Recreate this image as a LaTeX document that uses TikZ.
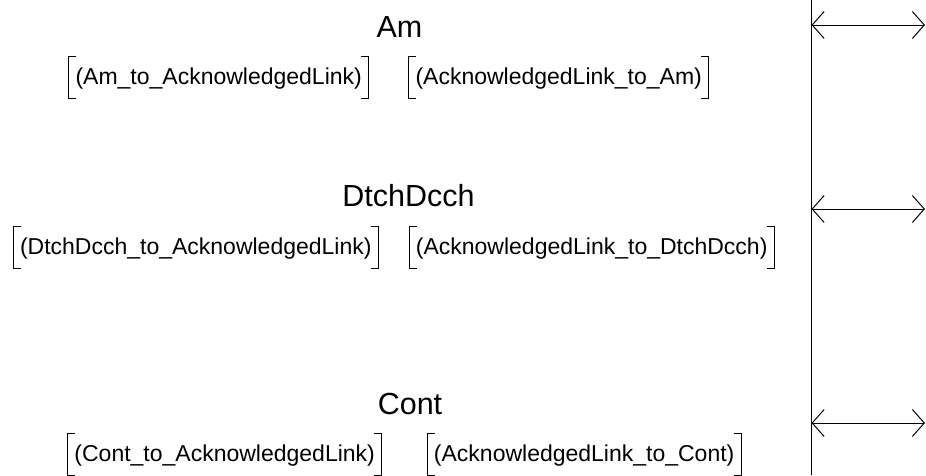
\documentclass[tikz,border=0pt]{standalone}
\usepackage{fontspec}
\setmainfont{Liberation Sans}
\usetikzlibrary{arrows.meta}
\begin{document}
\begin{tikzpicture}[x=1pt,y=-1pt,
  title/.style={font=\fontsize{30.5}{36}\selectfont, anchor=base, inner sep=0pt},
  lbl/.style={font=\fontsize{23}{28}\selectfont, anchor=base, inner xsep=6.5pt, inner ysep=0pt,
              text height=27pt, text depth=14pt},
  bracket/.style={line width=1pt},
  link/.style={line width=1pt, {Straight Barb[length=12pt,width=27pt]}-{Straight Barb[length=12pt,width=27pt]}}
]
\useasboundingbox (0,0) rectangle (926,475);

% bracketed label: square brackets drawn along the node's left and right edges
\newcommand{\brk}[1]{%
  \draw[bracket] ([xshift=7.5pt]#1.north west) -- (#1.north west) -- (#1.south west) -- ([xshift=7.5pt]#1.south west);
  \draw[bracket] ([xshift=-7.5pt]#1.north east) -- (#1.north east) -- (#1.south east) -- ([xshift=-7.5pt]#1.south east);}

% group titles
\node[title] (tam)   at (399.5,37)  {Am};
\node[title] (tdtch) at (408.5,206) {DtchDcch};
\node[title] (tcont) at (410,414)   {Cont};

% transition labels
\node[lbl] (am1) at (218.7,84) {(Am\_to\_AcknowledgedLink)};
\node[lbl] (am2) at (558.7,84) {(AcknowledgedLink\_to\_Am)};
\node[lbl] (dd1) at (195.8,254) {(DtchDcch\_to\_AcknowledgedLink)};
\node[lbl] (dd2) at (591.7,254) {(AcknowledgedLink\_to\_DtchDcch)};
\node[lbl] (co1) at (224.7,461) {(Cont\_to\_AcknowledgedLink)};
\node[lbl] (co2) at (584.2,461) {(AcknowledgedLink\_to\_Cont)};
\brk{am1}\brk{am2}\brk{dd1}\brk{dd2}\brk{co1}\brk{co2}

% vertical boundary
\coordinate (vtop) at (811.5,0);
\coordinate (vbot) at (811.5,475);
\draw[line width=1pt] (vtop) -- (vbot);

% double-headed links to the right edge
\coordinate (l1) at (811.5,25);  \coordinate (r1) at (925,25);
\coordinate (l2) at (811.5,209); \coordinate (r2) at (925,209);
\coordinate (l3) at (811.5,423); \coordinate (r3) at (925,423);
\draw[link] (l1) -- (r1);
\draw[link] (l2) -- (r2);
\draw[link] (l3) -- (r3);
\end{tikzpicture}
\end{document}
